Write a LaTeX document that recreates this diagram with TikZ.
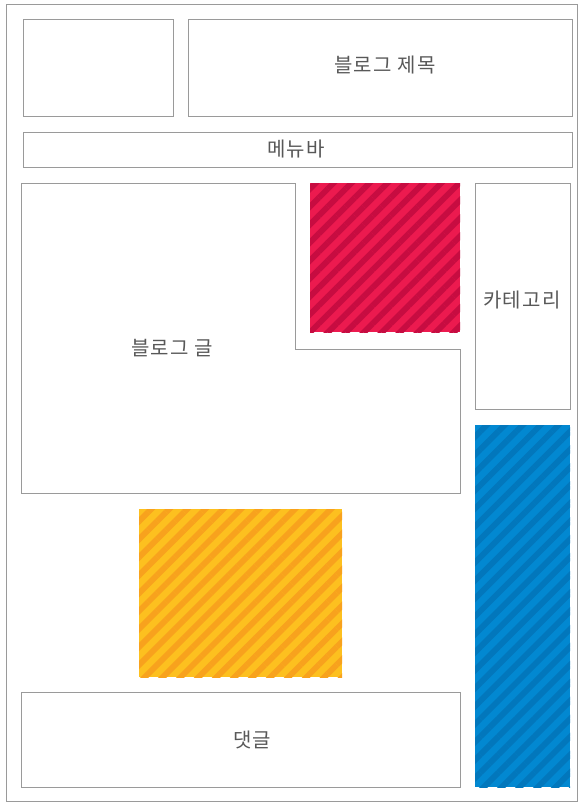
\documentclass[tikz,border=0pt]{standalone}
\usepackage{fontspec}
\setmainfont[LetterSpace=6]{Noto Sans CJK KR}
\usetikzlibrary{patterns.meta}
\definecolor{frame}{HTML}{9A9A9A}
\definecolor{txt}{HTML}{585858}
\definecolor{redA}{HTML}{EC1A4F}
\definecolor{redB}{HTML}{C70C41}
\definecolor{yelA}{HTML}{FDC01F}
\definecolor{yelB}{HTML}{F8A21D}
\definecolor{bluA}{HTML}{0288D1}
\definecolor{bluB}{HTML}{0277BC}

\begin{document}
\begin{tikzpicture} [x=1pt, y=-1pt,
  box/.style={draw=frame, line width=1pt},
  lbl/.style={text=txt, font=\fontsize{20}{20}\selectfont},
  stripes/.style={pattern={Lines[angle=45,distance=12.7pt,line width=5.8pt]}, pattern color=#1}]
\useasboundingbox (0,0) rectangle (582,804);
\fill[white] (0,0) rectangle (582,804);
\draw[box] (6,4) rectangle (577,801);
% header
\draw[box] (23,19) rectangle (173,116);
\draw[box] (188,19) rectangle (572,116);
\node[lbl] (title) at (385,65) {블로그 제목};
\draw[box] (23,132) rectangle (572,167);
\node[lbl] (menu) at (296,149) {메뉴바};
% body
\draw[box] (21,183) -- (295,183) -- (295,349) -- (460,349) -- (460,493) -- (21,493) -- cycle;
\node[lbl] (post) at (172,348) {블로그 글};
\draw[box] (475,183) rectangle (570,409);
\node[lbl] (cat) at (522,300) {카테고리};
\draw[box] (21,692) rectangle (460,787);
\node[lbl] (reply) at (252,740) {댓글};
% striped blocks
\foreach \a/\b/\x/\y/\u/\v in {redA/redB/310/183/460/332, yelA/yelB/139/509/342/677, bluA/bluB/475/425/570/787} {
 \fill[\a] (\x,\y) rectangle (\u,\v);
 \fill[stripes=\b] (\x,\y) rectangle (\u,\v);
}
\end{tikzpicture}
\end{document}
